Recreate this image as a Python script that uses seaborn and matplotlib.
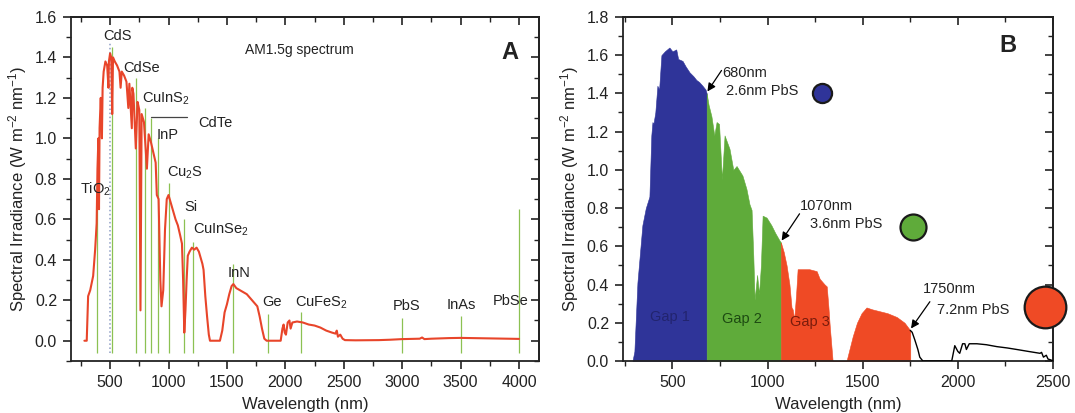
import numpy as np
import matplotlib
matplotlib.use("Agg")
import matplotlib.pyplot as plt
import seaborn as sns
from matplotlib.ticker import MultipleLocator, FormatStrFormatter, NullFormatter

# ---------------- data ----------------
# Panel A: AM1.5g spectrum (wavelength nm, irradiance W m-2 nm-1)
wl_A = [280, 300, 312, 330, 355, 372, 385, 392, 400, 405,
        410, 420, 430, 436, 445, 460, 475, 486, 490, 500,
        510, 518, 525, 540, 560, 580, 590, 600, 620, 640,
        656, 665, 686, 690, 700, 720, 735, 750, 760, 770,
        790, 815, 830, 850, 870, 890, 900, 915, 930, 940,
        955, 970, 985, 1000, 1020, 1040, 1060, 1080, 1100, 1115,
        1125, 1135, 1145, 1155, 1165, 1180, 1200, 1220, 1240, 1260,
        1275, 1290, 1300, 1315, 1330, 1345, 1355, 1400, 1440, 1460,
        1480, 1500, 1520, 1540, 1555, 1580, 1610, 1640, 1670, 1700,
        1730, 1760, 1780, 1800, 1820, 1840, 1960, 1975, 1985, 1995,
        2005, 2020, 2035, 2045, 2060, 2100, 2150, 2200, 2250, 2300,
        2350, 2400, 2430, 2440, 2450, 2470, 2490, 2510, 2600, 2800,
        2900, 3000, 3100, 3150, 3170, 3190, 3250, 3300, 3400, 3500,
        3600, 3700, 3800, 3900, 4000]
irr_A = [0.0, 0.0, 0.22, 0.25, 0.32, 0.45, 0.58, 0.85, 1.0, 0.65,
         1.05, 1.20, 1.0, 1.25, 1.33, 1.38, 1.36, 1.25, 1.38, 1.42,
         1.40, 1.12, 1.40, 1.38, 1.36, 1.33, 1.25, 1.33, 1.31, 1.28,
         1.15, 1.27, 1.05, 1.25, 1.22, 0.95, 1.18, 1.14, 0.15, 1.12,
         1.08, 0.85, 1.02, 0.98, 0.93, 0.88, 0.72, 0.70, 0.30, 0.17,
         0.25, 0.55, 0.70, 0.72, 0.68, 0.64, 0.60, 0.57, 0.52, 0.48,
         0.30, 0.04, 0.15, 0.30, 0.42, 0.44, 0.46, 0.45, 0.46, 0.44,
         0.41, 0.38, 0.35, 0.22, 0.12, 0.03, 0.0, 0.0, 0.0, 0.05,
         0.14, 0.18, 0.23, 0.27, 0.28, 0.26, 0.25, 0.24, 0.23, 0.21,
         0.19, 0.17, 0.12, 0.06, 0.01, 0.0, 0.0, 0.06, 0.08, 0.04,
         0.03, 0.09, 0.10, 0.06, 0.09, 0.095, 0.09, 0.08, 0.075, 0.065,
         0.05, 0.04, 0.035, 0.05, 0.02, 0.03, 0.01, 0.003, 0.002, 0.003,
         0.005, 0.008, 0.009, 0.010, 0.016, 0.008, 0.010, 0.011, 0.013, 0.014,
         0.013, 0.012, 0.011, 0.010, 0.009]

# Panel A: semiconductor band-gap markers
gap_names = ["TiO$_2$", "CdS", "CdSe", "CuInS$_2$", "CdTe", "InP", "Cu$_2$S", "Si",
             "CuInSe$_2$", "InN", "Ge", "CuFeS$_2$", "PbS", "InAs", "PbSe"]
gap_wl = [385, 515, 723, 800, 852, 911, 1005, 1134, 1211, 1550, 1855, 2130, 3000, 3500, 4000]
gap_top = [0.72, 1.45, 1.30, 1.15, 1.10, 1.00, 0.78, 0.60, 0.49, 0.38, 0.13, 0.14, 0.11, 0.12, 0.65]

# Panel B: spectrum split into absorption gaps
wl_B = [290, 300, 316, 342, 360, 379, 389, 395, 400, 410,
        421, 430, 442, 460, 484, 500, 520, 530, 553, 570,
        590, 610, 626, 640, 658, 674, 680, 690, 705, 720,
        732, 745, 760, 774, 800, 820, 837, 868, 889, 905,
        916, 925, 932, 945, 955, 965, 974, 995, 1020, 1040,
        1063, 1070, 1085, 1100, 1115, 1126, 1132, 1140, 1150, 1158,
        1184, 1220, 1258, 1274, 1300, 1311, 1320, 1327, 1342, 1415,
        1448, 1470, 1494, 1520, 1550, 1590, 1630, 1679, 1720, 1750,
        1760, 1774, 1790, 1800, 1816, 1968, 1984, 2000, 2010, 2025,
        2037, 2045, 2060, 2100, 2150, 2205, 2260, 2310, 2370, 2432,
        2440, 2450, 2465, 2474, 2490, 2500]
irr_B = [0.0, 0.05, 0.41, 0.71, 0.80, 0.86, 1.18, 1.25, 1.24, 1.30,
         1.44, 1.42, 1.60, 1.62, 1.64, 1.62, 1.63, 1.58, 1.57, 1.54,
         1.51, 1.49, 1.47, 1.46, 1.44, 1.42, 1.40, 1.34, 1.28, 1.18,
         1.25, 1.24, 0.95, 1.18, 1.11, 1.00, 1.02, 0.97, 0.90, 0.82,
         0.79, 0.55, 0.32, 0.45, 0.35, 0.50, 0.76, 0.75, 0.71, 0.67,
         0.63, 0.62, 0.57, 0.50, 0.40, 0.28, 0.27, 0.22, 0.35, 0.48,
         0.48, 0.48, 0.47, 0.43, 0.40, 0.39, 0.28, 0.18, 0.0, 0.0,
         0.13, 0.20, 0.25, 0.28, 0.27, 0.26, 0.25, 0.23, 0.20, 0.16,
         0.15, 0.11, 0.06, 0.02, 0.0, 0.0, 0.08, 0.05, 0.04, 0.09,
         0.09, 0.06, 0.09, 0.09, 0.085, 0.075, 0.068, 0.06, 0.05, 0.04,
         0.045, 0.02, 0.03, 0.01, 0.005, 0.0]

cutoff_wl = [680, 1070, 1750]
cutoff_irr = [1.40, 0.62, 0.16]
dot_size = ["2.6nm", "3.6nm", "7.2nm"]
gap_labels = ["Gap 1", "Gap 2", "Gap 3"]

# ---------------- style ----------------
sns.set_theme(style="ticks")
plt.rcParams["font.family"] = ["Liberation Sans", "DejaVu Sans"]
plt.rcParams["mathtext.fontset"] = "custom"
plt.rcParams["mathtext.rm"] = "Liberation Sans"
plt.rcParams["mathtext.it"] = "Liberation Sans:italic"
plt.rcParams["mathtext.default"] = "regular"

INK = "#222222"
RED_LINE = "#e8452a"
GREEN_MARK = "#8cc152"
C_BLUE = "#2f3499"
C_GREEN = "#5fab3a"
C_RED = "#ef4a25"

fig = plt.figure(figsize=(10.75, 4.13), dpi=100)
ax1 = fig.add_axes([0.066, 0.126, 0.4353, 0.833])
ax2 = fig.add_axes([0.5795, 0.126, 0.4, 0.833])


def style_axes(ax, xmaj, xmin, ymaj, ymin):
    for s in ax.spines.values():
        s.set_color(INK)
        s.set_linewidth(1.3)
    ax.xaxis.set_major_locator(MultipleLocator(xmaj))
    ax.xaxis.set_minor_locator(MultipleLocator(xmin))
    ax.yaxis.set_major_locator(MultipleLocator(ymaj))
    ax.yaxis.set_minor_locator(MultipleLocator(ymin))
    ax.yaxis.set_major_formatter(FormatStrFormatter("%.1f"))
    ax.tick_params(which="major", direction="out", length=6, width=1.2,
                   color=INK, labelsize=11.5, labelcolor=INK, pad=4)
    ax.tick_params(which="minor", direction="out", length=3.5, width=1.0, color=INK)
    secx = ax.secondary_xaxis("top")
    secx.xaxis.set_major_locator(MultipleLocator(xmaj))
    secx.xaxis.set_minor_locator(MultipleLocator(xmin))
    secx.xaxis.set_major_formatter(NullFormatter())
    secx.tick_params(which="major", direction="in", length=6, width=1.2, color=INK)
    secx.tick_params(which="minor", direction="in", length=3.5, width=1.0, color=INK)
    secx.spines["top"].set_linewidth(1.3)
    secx.spines["top"].set_color(INK)
    secy = ax.secondary_yaxis("right")
    secy.yaxis.set_major_locator(MultipleLocator(ymaj))
    secy.yaxis.set_minor_locator(MultipleLocator(ymin))
    secy.yaxis.set_major_formatter(NullFormatter())
    secy.tick_params(which="major", direction="in", length=6, width=1.2, color=INK)
    secy.tick_params(which="minor", direction="in", length=3.5, width=1.0, color=INK)
    secy.spines["right"].set_linewidth(1.3)
    secy.spines["right"].set_color(INK)


# ---------------- Panel A ----------------
ax1.vlines(gap_wl, -0.06, gap_top, colors=GREEN_MARK, linewidth=0.9, zorder=2)
ax1.vlines([495], -0.06, [1.47], colors="#8d9cc4", linestyles=":", linewidth=1.1, zorder=2)
sns.lineplot(x=wl_A, y=irr_A, ax=ax1, color=RED_LINE, linewidth=1.5, zorder=3)

label_xy = [(243, 0.75), (440, 1.507), (611, 1.35), (774, 1.197), (1253, 1.074),
            (902, 1.015), (988, 0.83), (1133, 0.66), (1210, 0.547), (1509, 0.335),
            (1800, 0.19), (2082, 0.187), (2921, 0.17), (3383, 0.177), (3776, 0.197)]
for name, (lx, ly) in zip(gap_names, label_xy):
    ax1.text(lx, ly, name, fontsize=10.5, ha="left", va="center", color=INK, zorder=4)
# leader line for CdTe
ax1.plot([gap_wl[4], 1160], [gap_top[4] + 0.005] * 2, color="#444444", linewidth=0.9)

ax1.text(1655, 1.438, "AM1.5g spectrum", fontsize=10, ha="left", va="center", color=INK)
ax1.text(3923, 1.425, "A", fontsize=17, fontweight="bold", ha="center", va="center", color=INK)

ax1.set_xlim(165, 4170)
ax1.set_ylim(-0.1, 1.6)
style_axes(ax1, 500, 250, 0.2, 0.1)
ax1.set_xlabel("Wavelength (nm)", fontsize=12, color=INK, labelpad=5)
ax1.set_ylabel("Spectral Irradiance (W m$^{-2}$ nm$^{-1}$)", fontsize=12, color=INK, labelpad=4)

# ---------------- Panel B ----------------
wlB = np.array(wl_B)
irrB = np.array(irr_B)
edges = [wlB.min()] + cutoff_wl
for lo, hi, col in zip(edges[:-1], edges[1:], [C_BLUE, C_GREEN, C_RED]):
    m = (wlB >= lo) & (wlB <= hi)
    ax2.fill_between(wlB, 0, irrB, where=m, facecolor=col, edgecolor=col,
                     linewidth=0.4, zorder=2)
tail = wlB >= cutoff_wl[-1]
sns.lineplot(x=wlB[tail], y=irrB[tail], ax=ax2, color="black", linewidth=1.0, zorder=3)

# gap labels
gap_xy = [(489, 0.23), (863, 0.22), (1221, 0.205)]
gap_cols = ["#22246e", "#1d4a12", "#7a1c0c"]
for t, (gx, gy), c in zip(gap_labels, gap_xy, gap_cols):
    ax2.text(gx, gy, t, fontsize=10.5, ha="center", va="center", color=c, zorder=4)

# cutoff annotations
text_xy = [(763, 1.505), (1168, 0.81), (1816, 0.374)]
sub_xy = [(779, 1.41), (1221, 0.716), (1889, 0.268)]
tail_xy = [(758, 1.52), (1168, 0.77), (1853, 0.31)]
for w, r, s, (tx, ty), (sx, sy), (ax_, ay_) in zip(cutoff_wl, cutoff_irr, dot_size,
                                                    text_xy, sub_xy, tail_xy):
    ax2.text(tx, ty, f"{w}nm", fontsize=10.5, ha="left", va="center", color=INK)
    ax2.text(sx, sy, f"{s} PbS", fontsize=10.5, ha="left", va="center", color=INK)
    ax2.annotate("", xy=(w + 4, r + 0.01), xytext=(ax_, ay_),
                 arrowprops=dict(arrowstyle="-|>", color="black", lw=0.9,
                                 mutation_scale=12, shrinkA=0, shrinkB=0))

# PbS dots (size grows with particle size)
dot_xy = [(1284, 1.40), (1763, 0.70), (2458, 0.28)]
dot_s = [190, 350, 900]
for (dx, dy), ds, col in zip(dot_xy, dot_s, [C_BLUE, C_GREEN, C_RED]):
    ax2.scatter([dx], [dy], s=ds, color=col, edgecolors="#1a1a1a", linewidths=1.6,
                clip_on=False, zorder=6)

ax2.text(2263, 1.65, "B", fontsize=17, fontweight="bold", ha="center", va="center", color=INK)

ax2.set_xlim(240, 2500)
ax2.set_ylim(0, 1.8)
style_axes(ax2, 500, 250, 0.2, 0.1)
ax2.set_xlabel("Wavelength (nm)", fontsize=12, color=INK, labelpad=5)
ax2.set_ylabel("Spectral Irradiance (W m$^{-2}$ nm$^{-1}$)", fontsize=12, color=INK, labelpad=4)

fig.savefig("out.png", dpi=100)
